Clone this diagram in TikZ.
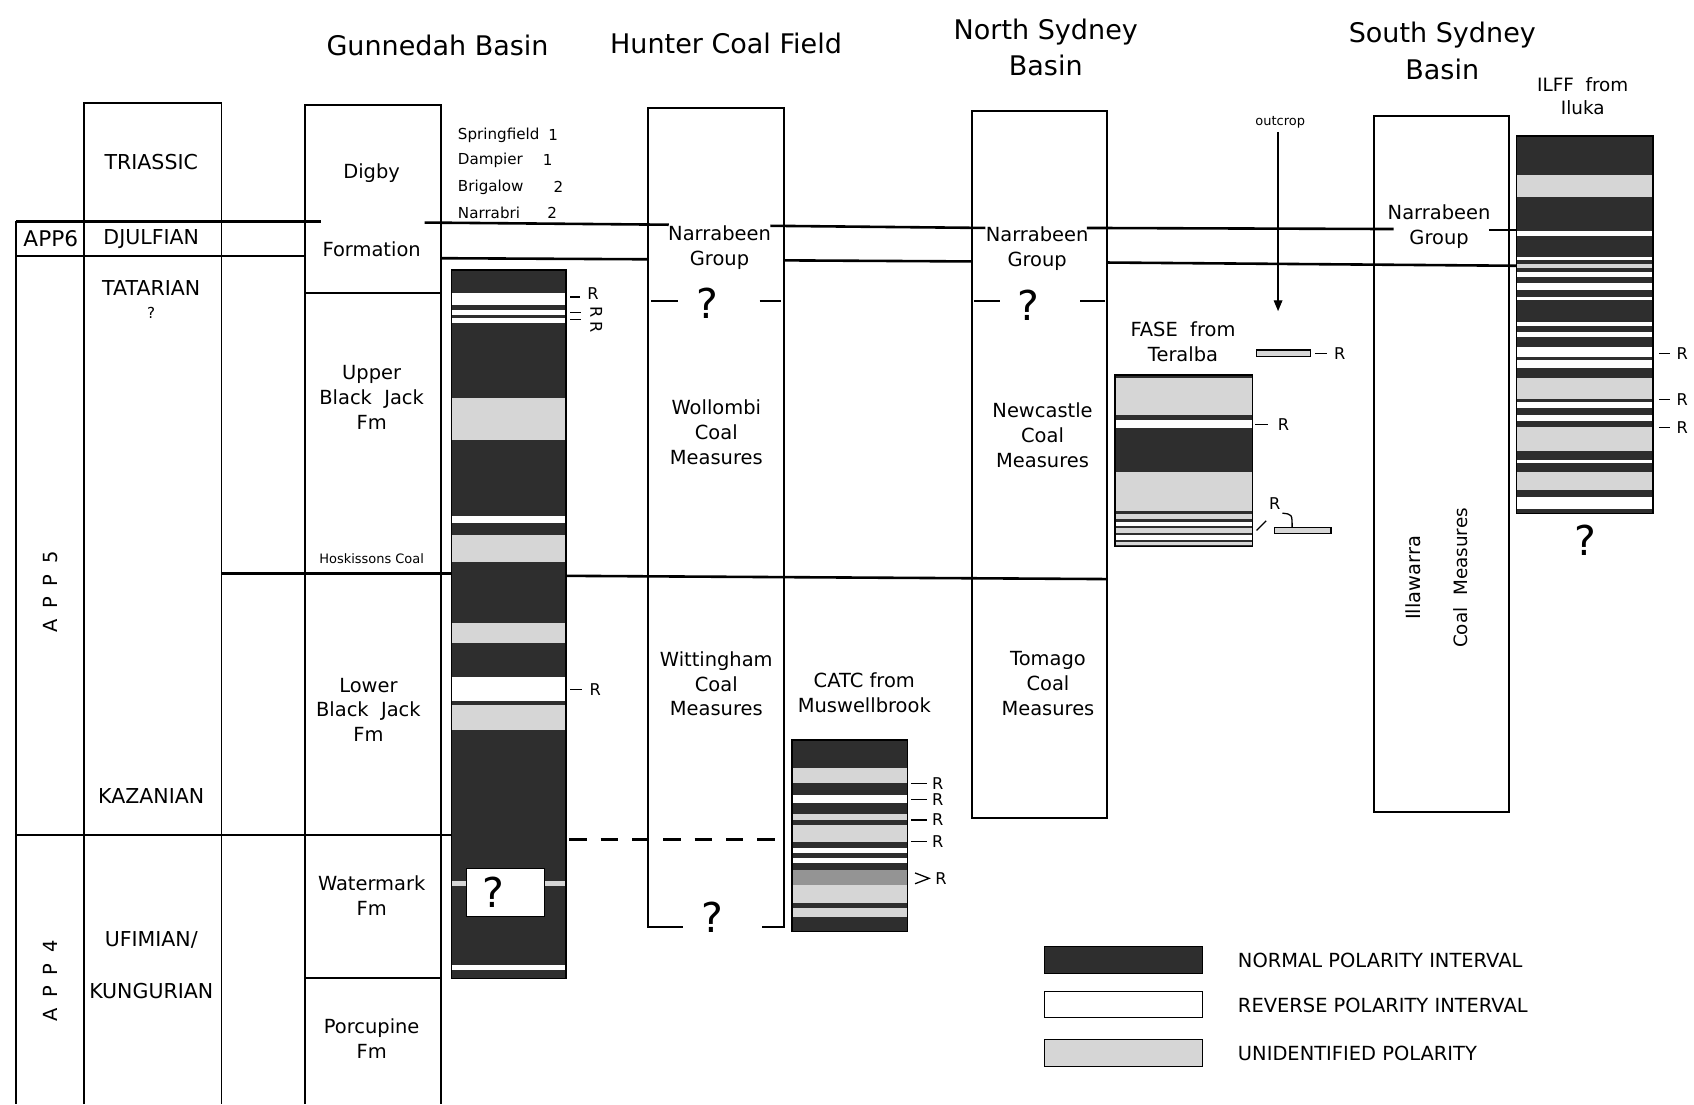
\documentclass[tikz,border=0pt]{standalone}
\usepackage{fontspec}
\setmainfont{DejaVu Sans}
\usetikzlibrary{arrows.meta}
\colorlet{polN}{black!82}
\colorlet{polU}{black!16}
\colorlet{polM}{black!42}
\colorlet{polR}{white}
\newcommand\basinfont{\fontsize{25}{34}\selectfont}
\newcommand\unitfont{\fontsize{18}{23}\selectfont}
\newcommand\stagefont{\fontsize{19}{23}\selectfont}
\newcommand\wellfont{\fontsize{14}{24}\selectfont}
\newcommand\rfont{\fontsize{15}{17}\selectfont}
\newcommand\tinyfont{\fontsize{12}{14}\selectfont}
\newcommand\qfont{\fontsize{38}{40}\selectfont}
\begin{document}
\begin{tikzpicture}[x=1pt,y=-1pt,line width=1.8pt]
	\tikzstyle{every node}+=[inner sep=0pt,align=center]
	\tikzstyle{corr}=[line width=2.4pt]
	\tikzstyle{thin}=[line width=1.2pt]
	\useasboundingbox (0,0) rectangle (1568,1022);
	% headings
	\draw (405,42) node[font=\basinfont] (gunnedah) {Gunnedah Basin};
	\draw (672,40) node[font=\basinfont] (hunter) {Hunter Coal Field};
	\draw (968,44) node[font=\basinfont] (northsyd) {North Sydney\\Basin};
	\draw (1335,47) node[font=\basinfont] (southsyd) {South Sydney\\Basin};
	\draw (1465,89) node[font=\fontsize{17}{22}\selectfont] (ilff) {ILFF\ \ from\\Iluka};
	% age columns
	\draw (15,205) -- (15,1022);
	\draw (78,1022) -- (78,95) -- (205,95) -- (205,1022);
	\draw[corr] (15,205) -- (297,205);
	\draw[corr] (15,237) -- (282,237);
	\draw[corr] (205,531) -- (418,531);
	\draw[corr] (15,773) -- (418,773);
	\draw (47,221) node[font=\fontsize{20}{22}\selectfont] (app6) {APP6};
	\draw (47,548) node[font=\unitfont,rotate=90] (app5) {A\hspace{.55em}P\hspace{.55em}P\hspace{.55em}5};
	\draw (47,908) node[font=\unitfont,rotate=90] (app4) {A\hspace{.55em}P\hspace{.55em}P\hspace{.55em}4};
	\draw (140,150) node[font=\stagefont] (triassic) {TRIASSIC};
	\draw (140,221) node[font=\stagefont] (djulfian) {DJULFIAN};
	\draw (140,267) node[font=\stagefont] (tatarian) {TATARIAN};
	\draw (140,290) node[font=\wellfont] (tatq) {?};
	\draw (140,737) node[font=\stagefont] (kazanian) {KAZANIAN};
	\draw (140,870) node[font=\stagefont] (ufimian) {UFIMIAN/};
	\draw (140,917) node[font=\stagefont] (kungurian) {KUNGURIAN};
	% Gunnedah formations
	\draw (282,1022) -- (282,97) -- (408,97) -- (408,1022);
	\draw (282,271) -- (408,271);
	\draw (282,905) -- (408,905);
	\draw (344,160) node[font=\unitfont] (digby) {Digby};
	\draw (344,231) node[font=\unitfont] (formation) {Formation};
	\draw (344,368) node[font=\unitfont] (upperbj) {Upper\\Black\ \ Jack\\Fm};
	\draw (344,517) node[font=\tinyfont] (hoskissons) {Hoskissons Coal};
	\draw (341,657) node[font=\unitfont] (lowerbj) {Lower\\Black\ \ Jack\\Fm};
	\draw (344,829) node[font=\unitfont] (watermark) {Watermark\\Fm};
	\draw (344,961) node[font=\unitfont] (porcupine) {Porcupine\\Fm};
	\foreach \nm/\nr/\xx/\y in {Springfield/1/512/125, Dampier/1/507/148, Brigalow/2/517/173, Narrabri/2/511/197}{
		\draw (423,\y) node[anchor=west,font=\wellfont] (well\y) {\nm};
		\draw (\xx,\y) node[font=\wellfont] (wellno\y) {\nr};
	}
	% Gunnedah polarity
	\foreach \ya/\yb/\c in {250/271/polN, 271/282/polR, 282/287/polN, 287/292/polR, 292/294/polN, 294/299/polR, 299/368/polN, 368/407/polU, 407/478/polN, 478/484/polR, 484/495/polN, 495/520/polU, 520/577/polN, 577/595/polU, 595/627/polN, 627/649/polR, 649/653/polN, 653/676/polU, 676/893/polN, 815/820/polU, 893/898/polR, 898/906/polN}
		\fill[\c] (418,\ya) rectangle (524,\yb);
	\draw[thin] (418,250) rectangle (524,906);
	\draw[thin,fill=white] (432,804) rectangle (504,848);
	\draw (457,826) node[font=\qfont] (gunq) {?};
	\draw[thin] (528,275) -- (537,275);
	\draw (549,272) node[font=\rfont] (gr1) {R};
	\draw[thin] (528,289) -- (538,289);
	\draw[thin] (528,296) -- (538,296);
	\draw (552,289) node[font=\rfont,rotate=-90] (gr2) {R};
	\draw (552,303) node[font=\rfont,rotate=-90] (gr3) {R};
	\draw[thin] (528,638) -- (539,638);
	\draw (551,638) node[font=\rfont] (gr4) {R};
	% correlation lines
	\draw[corr] (393,206) -- (619,208);
	\draw[corr] (713,209) -- (912,211);
	\draw[corr] (1006,211) -- (1290,212);
	\draw[corr] (1378,213) -- (1404,213);
	\draw[corr] (408,239) -- (600,240);
	\draw[corr] (726,241) -- (900,242);
	\draw[corr] (1025,243) -- (1404,246);
	\draw[corr] (524,533) -- (1025,536);
	\draw[corr,dash pattern=on 16pt off 13pt] (527,777) -- (722,777);
	% Hunter Coal Field
	\draw (632,858) -- (600,858) -- (600,100) -- (726,100) -- (726,858) -- (705,858);
	\draw (603,279) -- (628,279);
	\draw (703,279) -- (723,279);
	\draw (666,229) node[font=\unitfont] (hnarrabeen) {Narrabeen\\Group};
	\draw (655,281) node[font=\qfont] (hq1) {?};
	\draw (663,400) node[font=\unitfont] (wollombi) {Wollombi\\Coal\\Measures};
	\draw (663,633) node[font=\unitfont] (wittingham) {Wittingham\\Coal\\Measures};
	\draw (659,849) node[font=\qfont] (hq2) {?};
	% CATC
	\draw (800,641) node[font=\unitfont] (catc) {CATC from\\Muswellbrook};
	\foreach \ya/\yb/\c in {685/711/polN, 711/725/polU, 725/736/polN, 736/743/polR, 743/753/polN, 753/759/polU, 759/764/polN, 764/779/polU, 779/785/polN, 785/790/polR, 790/794/polN, 794/799/polR, 799/805/polN, 805/819/polM, 819/836/polU, 836/840/polN, 840/849/polU, 849/862/polN}
		\fill[\c] (733,\ya) rectangle (840,\yb);
	\draw[thin] (733,685) rectangle (840,862);
	\foreach \y in {725,740,759,779}{
		\draw[thin] (843,\y) -- (858,\y);
		\draw (868,\y) node[font=\rfont] (catcr\y) {R};
	}
	\draw[thin] (847,808) -- (860,813) -- (847,818);
	\draw (871,813) node[font=\rfont] (catcr813) {R};
	% North Sydney
	\draw (900,103) rectangle (1025,757);
	\draw (902,279) -- (926,279);
	\draw (1000,279) -- (1023,279);
	\draw (960,230) node[font=\unitfont] (nnarrabeen) {Narrabeen\\Group};
	\draw (952,283) node[font=\qfont] (nq) {?};
	\draw (965,403) node[font=\unitfont] (newcastle) {Newcastle\\Coal\\Measures};
	\draw (970,633) node[font=\unitfont] (tomago) {Tomago\\Coal\\Measures};
	% FASE and outcrop
	\draw (1185,113) node[font=\tinyfont] (outcrop) {outcrop};
	\draw[line width=1.1pt,-{Triangle[width=8pt,length=10pt]}] (1183,122) -- (1183,288);
	\draw (1095,316) node[font=\unitfont] (fase) {FASE\ \ from\\Teralba};
	\foreach \ya/\yb/\c in {347/350/polN, 350/384/polU, 384/389/polN, 389/396/polR, 396/437/polN, 437/473/polU, 473/476/polN, 476/480/polU, 480/483/polN, 483/487/polR, 487/489/polN, 489/493/polU, 493/495/polN, 495/500/polR, 500/502/polN, 502/504/polU, 504/506/polN}
		\fill[\c] (1032,\ya) rectangle (1159,\yb);
	\draw[thin] (1032,347) rectangle (1159,506);
	\draw[thin,fill=polU] (1163,324) rectangle (1213,330);
	\draw[thin] (1217,327) -- (1228,327);
	\draw (1240,327) node[font=\rfont] (fr1) {R};
	\draw[thin] (1162,393) -- (1174,393);
	\draw (1188,393) node[font=\rfont] (fr2) {R};
	\draw[thin] (1163,491) -- (1172,482);
	\draw (1180,466) node[font=\rfont] (fr3) {R};
	\draw[thin] (1187,475) .. controls (1196,476) .. (1196,488);
	\draw[thin,fill=polU] (1180,488) rectangle (1232,494);
	% South Sydney
	\draw (1272,107) rectangle (1397,752);
	\draw (1332,210) node[font=\unitfont] (snarrabeen) {Narrabeen\\Group};
	\draw (1308,535) node[font=\unitfont,rotate=90] (illawarra) {Illawarra};
	\draw (1352,535) node[font=\fontsize{17}{20}\selectfont,rotate=90] (scoal) {Coal\ \ Measures};
	% ILFF
	\foreach \ya/\yb/\c in {126/162/polN, 162/182/polU, 182/214/polN, 214/218/polR, 218/238/polN, 238/241/polR, 241/244/polN, 244/248/polU, 248/252/polN, 252/256/polR, 256/262/polN, 262/268/polR, 268/275/polN, 275/278/polR, 278/298/polN, 298/302/polR, 302/307/polN, 307/312/polR, 312/321/polN, 321/330/polR, 330/333/polN, 333/341/polR, 341/350/polN, 350/369/polU, 369/372/polN, 372/378/polR, 378/384/polN, 384/390/polR, 390/395/polN, 395/417/polU, 417/426/polN, 426/429/polR, 429/437/polN, 437/454/polU, 454/460/polN, 460/471/polR, 471/475/polN}
		\fill[\c] (1404,\ya) rectangle (1530,\yb);
	\draw[thin] (1404,126) rectangle (1530,475);
	\foreach \y in {327,370,396}{
		\draw[thin] (1536,\y) -- (1546,\y);
		\draw (1557,\y) node[font=\rfont] (ir\y) {R};
	}
	\draw (1467,500) node[font=\qfont] (iq) {?};
	% legend
	\draw[thin,fill=polN] (967,876) rectangle (1113,901);
	\draw[thin,fill=white] (967,918) rectangle (1113,942);
	\draw[thin,fill=polU] (967,962) rectangle (1113,987);
	\draw (1145,889) node[anchor=west,font=\unitfont] (lgnormal) {NORMAL POLARITY INTERVAL};
	\draw (1145,931) node[anchor=west,font=\unitfont] (lgreverse) {REVERSE POLARITY INTERVAL};
	\draw (1145,975) node[anchor=west,font=\unitfont] (lgunid) {UNIDENTIFIED POLARITY};
\end{tikzpicture}
\end{document}
